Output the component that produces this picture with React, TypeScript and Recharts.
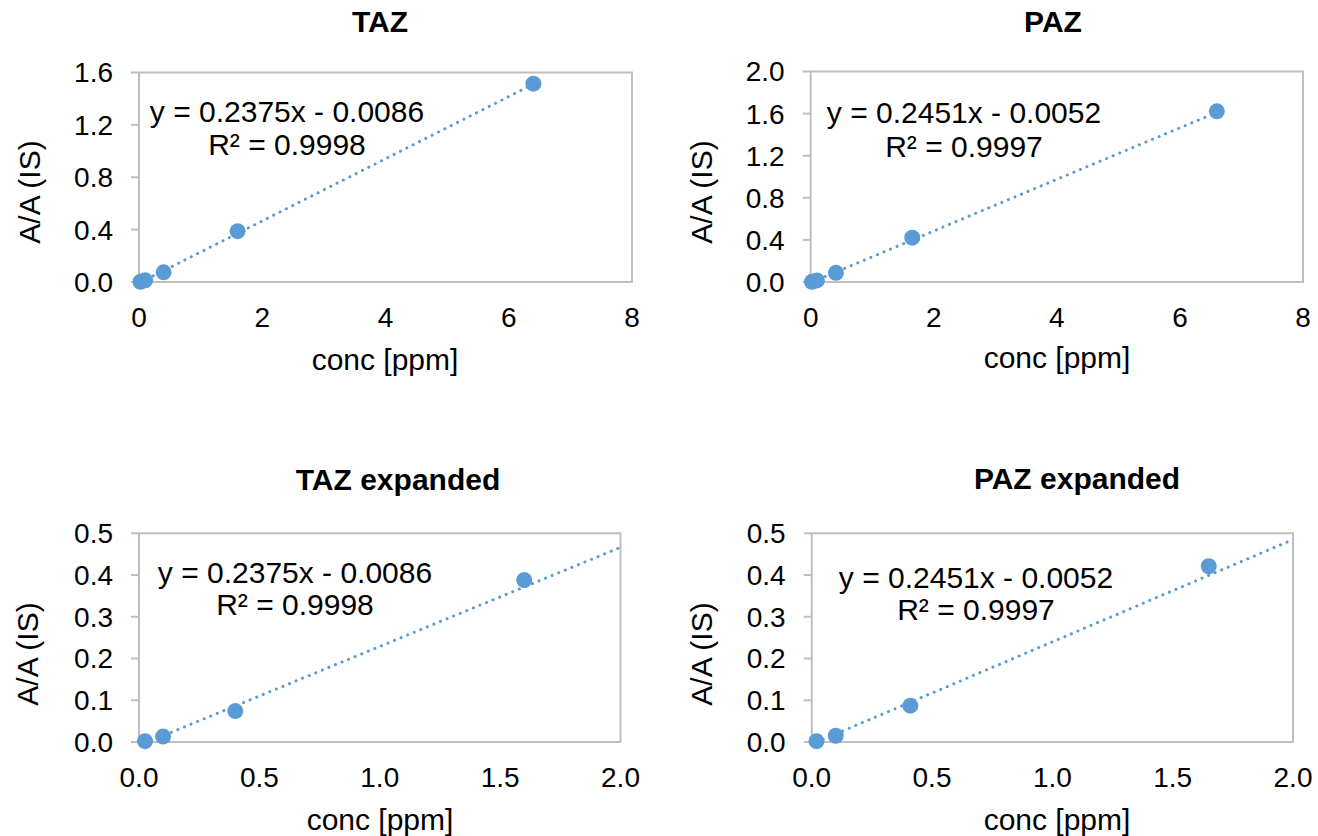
import { ReferenceArea, ReferenceLine, Scatter, ScatterChart, XAxis, YAxis } from "recharts";

const BLUE = "#5B9BD5";
const BORDER = "#BFBFBF";
const FONT = '"Liberation Sans", Arial, sans-serif';
const TICK_FS = 28;
const LABEL_FS = 30;

// calibration points
const tazConc = [0.025, 0.1, 0.4, 1.6, 6.4];
const tazRatio = [0.002, 0.013, 0.074, 0.388, 1.515];
const pazConc = [0.02, 0.1, 0.41, 1.65, 6.6];
const pazRatio = [0.002, 0.015, 0.087, 0.421, 1.622];

// trendline labels as printed
const tazSlope = 0.2375;
const tazIntercept = -0.0086;
const tazEq = "y = 0.2375x - 0.0086";
const tazR2 = "R² = 0.9998";
const pazSlope = 0.2451;
const pazIntercept = -0.0052;
const pazEq = "y = 0.2451x - 0.0052";
const pazR2 = "R² = 0.9997";

const fullXTicks = [0, 2, 4, 6, 8];
const tazYTicks = [0, 0.4, 0.8, 1.2, 1.6];
const pazYTicks = [0, 0.4, 0.8, 1.2, 1.6, 2.0];
const zoomXTicks = [0, 0.5, 1.0, 1.5, 2.0];
const zoomYTicks = [0, 0.1, 0.2, 0.3, 0.4, 0.5];

interface PanelProps {
  title: string;
  conc: number[];
  ratio: number[];
  slope: number;
  intercept: number;
  eq: string;
  r2: string;
  xTicks: number[];
  yTicks: number[];
  xDigits: number;
  left: number;
  top: number;
  yAxisWidth: number;
  margin: { top: number; right: number; bottom: number };
  titlePos: [number, number];
  eqPos: [number, number, number];
  xLabelPos: [number, number];
  yLabelPos: [number, number];
}

const W = 659;
const H = 418;

const textStyle = (x: number, y: number, extra?: object) => ({
  position: "absolute" as const,
  left: x,
  top: y,
  transform: "translate(-50%, -50%)",
  whiteSpace: "nowrap" as const,
  lineHeight: 1,
  fontSize: LABEL_FS,
  color: "#000",
  ...extra,
});

function Dot(props: any) {
  const { cx, cy } = props;
  if (cx == null || cy == null) return null;
  return <circle cx={cx} cy={cy} r={8} fill={BLUE} />;
}

function Panel(p: PanelProps) {
  const xMax = p.xTicks[p.xTicks.length - 1];
  const yMax = p.yTicks[p.yTicks.length - 1];
  const points = p.conc
    .map((x, i) => ({ x, y: p.ratio[i] }))
    .filter((d) => d.x <= xMax);
  const x0 = p.conc[0];
  const x1 = Math.min(p.conc[p.conc.length - 1], xMax);

  return (
    <>
      <div style={{ position: "absolute", left: p.left, top: p.top, width: W, height: H }}>
        <ScatterChart
          width={W}
          height={H}
          margin={{ top: p.margin.top, right: p.margin.right, bottom: p.margin.bottom, left: 0 }}
        >
          <XAxis
            type="number"
            dataKey="x"
            domain={[0, xMax]}
            ticks={p.xTicks}
            tickFormatter={(v) => v.toFixed(p.xDigits)}
            axisLine={false}
            tickLine={false}
            tickSize={0}
            tickMargin={25}
            height={60}
            interval={0}
            tick={{ fontSize: TICK_FS, fill: "#000" }}
          />
          <YAxis
            type="number"
            dataKey="y"
            domain={[0, yMax]}
            ticks={p.yTicks}
            tickFormatter={(v) => v.toFixed(1)}
            width={p.yAxisWidth}
            axisLine={false}
            tickSize={8}
            tickMargin={18}
            interval={0}
            tickLine={{ stroke: BORDER, strokeWidth: 2 }}
            tick={{ fontSize: TICK_FS, fill: "#000" }}
          />
          <ReferenceArea
            x1={0}
            x2={xMax}
            y1={0}
            y2={yMax}
            fill="none"
            stroke={BORDER}
            strokeWidth={2}
          />
          <ReferenceLine
            segment={[
              { x: x0, y: p.slope * x0 + p.intercept },
              { x: x1, y: p.slope * x1 + p.intercept },
            ]}
            ifOverflow="hidden"
            stroke={BLUE}
            strokeWidth={3}
            strokeDasharray="0.1 7"
            strokeLinecap="round"
          />
          <Scatter data={points} fill={BLUE} shape={<Dot />} isAnimationActive={false} />
        </ScatterChart>
      </div>
      <div style={textStyle(p.titlePos[0], p.titlePos[1], { fontWeight: "bold" })}>{p.title}</div>
      <div style={textStyle(p.eqPos[0], p.eqPos[1])}>{p.eq}</div>
      <div style={textStyle(p.eqPos[0], p.eqPos[2])}>{p.r2}</div>
      <div style={textStyle(p.xLabelPos[0], p.xLabelPos[1])}>conc [ppm]</div>
      <div style={textStyle(p.yLabelPos[0], p.yLabelPos[1], { transform: "translate(-50%, -50%) rotate(-90deg)" })}>
        A/A (IS)
      </div>
    </>
  );
}

export default function App() {
  return (
    <div
      style={{
        position: "absolute",
        left: 0,
        top: 0,
        width: 1318,
        height: 836,
        background: "#fff",
        fontFamily: FONT,
        overflow: "hidden",
      }}
    >
      <Panel
        title="TAZ"
        conc={tazConc}
        ratio={tazRatio}
        slope={tazSlope}
        intercept={tazIntercept}
        eq={tazEq}
        r2={tazR2}
        xTicks={fullXTicks}
        yTicks={tazYTicks}
        xDigits={0}
        left={0}
        top={0}
        yAxisWidth={139}
        margin={{ top: 72.5, right: 27, bottom: 76 }}
        titlePos={[380, 22]}
        eqPos={[287, 112, 145]}
        xLabelPos={[385, 360]}
        yLabelPos={[30, 192]}
      />
      <Panel
        title="PAZ"
        conc={pazConc}
        ratio={pazRatio}
        slope={pazSlope}
        intercept={pazIntercept}
        eq={pazEq}
        r2={pazR2}
        xTicks={fullXTicks}
        yTicks={pazYTicks}
        xDigits={0}
        left={659}
        top={0}
        yAxisWidth={151.7}
        margin={{ top: 71.5, right: 15, bottom: 76 }}
        titlePos={[1053, 22]}
        eqPos={[964, 113, 147]}
        xLabelPos={[1057, 358]}
        yLabelPos={[702, 192]}
      />
      <Panel
        title="TAZ expanded"
        conc={tazConc}
        ratio={tazRatio}
        slope={tazSlope}
        intercept={tazIntercept}
        eq={tazEq}
        r2={tazR2}
        xTicks={zoomXTicks}
        yTicks={zoomYTicks}
        xDigits={1}
        left={0}
        top={418}
        yAxisWidth={139}
        margin={{ top: 115.3, right: 38.5, bottom: 34 }}
        titlePos={[398, 480]}
        eqPos={[295, 573, 605]}
        xLabelPos={[380, 820]}
        yLabelPos={[28, 654]}
      />
      <Panel
        title="PAZ expanded"
        conc={pazConc}
        ratio={pazRatio}
        slope={pazSlope}
        intercept={pazIntercept}
        eq={pazEq}
        r2={pazR2}
        xTicks={zoomXTicks}
        yTicks={zoomYTicks}
        xDigits={1}
        left={659}
        top={418}
        yAxisWidth={152.7}
        margin={{ top: 115.3, right: 25, bottom: 34 }}
        titlePos={[1077, 479]}
        eqPos={[976, 578, 610]}
        xLabelPos={[1057, 820]}
        yLabelPos={[702, 654]}
      />
    </div>
  );
}
